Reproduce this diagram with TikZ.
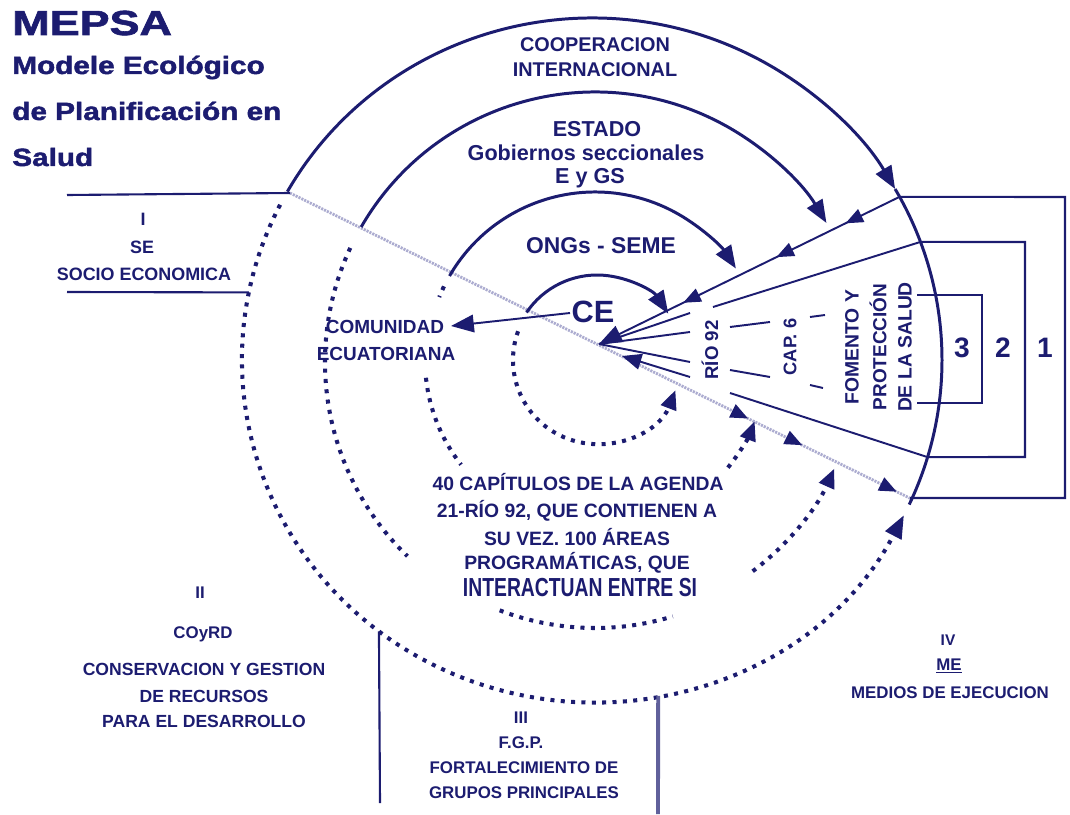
\documentclass[tikz,border=0pt]{standalone}
\usepackage{fontspec}
\setmainfont{Liberation Sans}
\newfontfamily\heavyfont[BoldFeatures={FakeBold=1.6}]{Liberation Sans}
\usetikzlibrary{arrows.meta,decorations.markings,calc}
\definecolor{nv}{RGB}{28,28,112}
\definecolor{gl}{RGB}{172,172,208}
\newcommand{\fsz}[1]{\fontsize{#1}{#1}\selectfont}
\begin{document}
\begin{tikzpicture}[x=0.02cm,y=0.02cm,
  solidarc/.style={draw=nv, line width=1.7pt},
  thinline/.style={draw=nv, line width=1.1pt},
  boxline/.style={draw=nv, line width=1.2pt},
  dotarc/.style={draw=nv, line width=2.3pt, dash pattern=on 2.3pt off 3.6pt},
  grayline/.style={draw=gl, line width=1.6pt, dash pattern=on 1.2pt off 0.6pt},
  arrbig/.style={-{Triangle[length=13pt,width=10pt]}},
  arrmid/.style={-{Triangle[length=11pt,width=9pt]}},
  lbl/.style={text=nv, font=\bfseries, inner sep=0pt, anchor=base},
  lblw/.style={text=nv, font=\heavyfont\bfseries, inner sep=0pt, anchor=base west},
  rlbl/.style={text=nv, font=\bfseries, inner sep=0pt, rotate=90, anchor=center},
  l1marks/.style={postaction={decorate,decoration={markings,
     mark=at position 0.18 with {\arrow{Triangle[length=10pt,width=8pt]}},
     mark=at position 0.41 with {\arrow{Triangle[length=10pt,width=8pt]}},
     mark=at position 0.72 with {\arrow{Triangle[length=10pt,width=8pt]}}}}},
  glmarks/.style={postaction={decorate,decoration={markings,
     mark=at position 0.737 with {\arrow{Triangle[length=10pt,width=8pt,color=nv]}},
     mark=at position 0.824 with {\arrow{Triangle[length=10pt,width=8pt,color=nv]}},
     mark=at position 0.976 with {\arrow{Triangle[length=10pt,width=8pt,color=nv]}}}}}
]
\useasboundingbox (0,-814) rectangle (1070,0);

% centres
\coordinate (cA) at (592,-360);
\coordinate (cB) at (595,-362);
\coordinate (cC) at (595,-360);
\coordinate (cD) at (597,-360);
\coordinate (O) at (599,-344);

% key points
\coordinate (P1) at ($(cA)+(28.5:350 and 342)$);
\coordinate (G1) at (290,-193);
\coordinate (G2) at ($(cA)+(-24:350 and 342)$);

% gray diagonal line
\draw[grayline, glmarks] (G1) -- (G2);

% outer circle (cooperacion)
\draw[solidarc, arrbig] ($(cA)+(150.5:350 and 342)$) arc[start angle=150.5, end angle=30, x radius=350, y radius=342];
\draw[solidarc] ($(cA)+(30:350 and 342)$) arc[start angle=30, end angle=-25, x radius=350, y radius=342];
\draw[dotarc, arrbig] ($(cA)+(153:350 and 342)$) arc[start angle=153, end angle=333, x radius=350, y radius=342];

% circle B (estado)
\draw[solidarc, arrbig] ($(cB)+(150:270)$) arc[start angle=150, end angle=31, radius=270];
\draw[dotarc] ($(cB)+(155:270)$) arc[start angle=155, end angle=226, radius=270];
\draw[dotarc] ($(cB)+(249:266)$) arc[start angle=249, end angle=287, radius=266];
\draw[dotarc, arrmid] ($(cB)+(307:262)$) arc[start angle=307, end angle=336, radius=262];

% circle C (ONGs)
\draw[solidarc, arrbig] ($(cC)+(150:168)$) arc[start angle=150, end angle=33, radius=168];
\draw[dotarc] ($(cC)+(154:168)$) arc[start angle=154, end angle=158, radius=168];
\draw[dotarc] ($(cC)+(186:170)$) arc[start angle=186, end angle=218, radius=170];
\draw[dotarc, arrmid] ($(cC)+(321:171)$) arc[start angle=321, end angle=339, radius=171];

% circle D (CE)
\draw[solidarc, arrbig] ($(cD)+(146:85)$) arc[start angle=146, end angle=33, radius=85];
\draw[dotarc, arrmid] ($(cD)+(160:84)$) arc[start angle=160, end angle=339, radius=84];

% fan of lines
\draw[thinline, l1marks, arrbig] (P1) -- (O);
\coordinate (L2a) at (713,-307);
\coordinate (L2b) at ($(cA)+(20.2:350 and 342)$);
\draw[thinline] (L2a) -- (L2b);
\coordinate (L3a) at (730,-393);
\coordinate (L3b) at ($(cA)+(-16.5:350 and 342)$);
\draw[thinline] (L3a) -- (L3b);
\coordinate (r1) at (690,-313);
\coordinate (r2) at (690,-332);
\coordinate (r3) at (690,-362);
\coordinate (r4) at (690,-377);
\coordinate (r4e) at (622,-356);
\draw[thinline] (r1) -- (O);
\draw[thinline] (r2) -- (O);
\draw[thinline] (r3) -- (O);
\draw[thinline, arrmid] (r4) -- (r4e);
\coordinate (d1a) at (730,-327); \coordinate (d1b) at (770,-322);
\coordinate (d2a) at (810,-317); \coordinate (d2b) at (825,-315);
\coordinate (d3a) at (730,-370); \coordinate (d3b) at (770,-377);
\coordinate (d4a) at (810,-385); \coordinate (d4b) at (823,-388);
\draw[thinline] (d1a) -- (d1b);
\draw[thinline] (d2a) -- (d2b);
\draw[thinline] (d3a) -- (d3b);
\draw[thinline] (d4a) -- (d4b);

% right boxes
\draw[boxline] (P1) -- (1065,-197) -- (1065,-498) -- (910,-498);
\draw[boxline] (L2b) -- (1025,-242) -- (1025,-457) -- (L3b);
\coordinate (B3a) at (917,-295);
\coordinate (B3b) at (917,-403);
\draw[boxline] (B3a) -- (982,-295) -- (982,-403) -- (B3b);

% section lines
\coordinate (S1a) at (67,-195);
\coordinate (S2a) at (67,-292);
\coordinate (S2b) at ($(cA)+(168.6:350 and 342)$);
\draw[boxline] (S1a) -- (G1);
\draw[boxline] (S2a) -- (S2b);
\coordinate (V1a) at ($(cA)+(232.5:350 and 342)$);
\coordinate (V1b) at (380,-803);
\draw[boxline] (V1a) -- (V1b);
\coordinate (V2a) at ($(cA)+(280.9:350 and 342)$);
\coordinate (V2b) at (658,-814);
\draw[draw=nv!70, line width=2.2pt] (V2a) -- (V2b);

% title
\node[lblw] (t0) at (12,-35) {\fsz{19.8}\scalebox{1.29}[1]{MEPSA}};
\node[lblw] (t1) at (12,-74) {\fsz{14.2}\scalebox{1.19}[1]{Modele Ecológico}};
\node[lblw] (t2) at (12,-120) {\fsz{14.2}\scalebox{1.19}[1]{de Planificación en}};
\node[lblw] (t3) at (12,-166) {\fsz{14.2}\scalebox{1.19}[1]{Salud}};

% ring labels
\node[lbl] (co1) at (595,-52) {\fsz{11.3}COOPERACION};
\node[lbl] (co2) at (595,-77) {\fsz{11.3}INTERNACIONAL};
\node[lbl] (es1) at (597,-137) {\fsz{12.3}ESTADO};
\node[lbl] (es2) at (586,-160) {\fsz{12.3}Gobiernos seccionales};
\node[lbl] (es3) at (590,-183) {\fsz{12.3}E y GS};
\node[lbl] (ong) at (601,-253) {\fsz{13}ONGs - SEME};
\node[lbl] (CE) at (593,-322) {\fsz{17.5}CE};
\node[lbl] (com1) at (385,-333) {\fsz{10.8}COMUNIDAD};
\node[lbl] (com2) at (386,-360) {\fsz{10.8}ECUATORIANA};
\coordinate (CEw) at (570,-313);
\coordinate (COMe) at (451,-326);
\draw[thinline, arrbig] (CEw) -- (COMe);

% agenda text
\node[lbl] (ag1) at (578,-490) {\fsz{11}40 CAPÍTULOS DE LA AGENDA};
\node[lbl] (ag2) at (577,-517) {\fsz{11}21-RÍO 92, QUE CONTIENEN A};
\node[lbl] (ag3) at (577,-545) {\fsz{11}SU VEZ. 100 ÁREAS};
\node[lbl] (ag4) at (577,-569) {\fsz{11}PROGRAMÁTICAS, QUE};
\node[lbl] (ag5) at (580,-596) {\fsz{11}\scalebox{1}[1.35]{INTERACTUAN ENTRE SI}};

% left section I
\node[lbl] (s1a) at (143,-225) {\fsz{10.2}I};
\node[lbl] (s1b) at (142,-253) {\fsz{10.2}SE};
\node[lbl] (s1c) at (144,-280) {\fsz{10.2}SOCIO ECONOMICA};

% section II
\node[lbl] (s2a) at (200,-598) {\fsz{9.6}II};
\node[lbl] (s2b) at (203,-638) {\fsz{9.6}COyRD};
\node[lbl] (s2c) at (204,-675) {\fsz{10}CONSERVACION Y GESTION};
\node[lbl] (s2d) at (204,-702) {\fsz{10}DE RECURSOS};
\node[lbl] (s2e) at (204,-727) {\fsz{10}PARA EL DESARROLLO};

% section III
\node[lbl] (s3a) at (521,-723) {\fsz{9.6}III};
\node[lbl] (s3b) at (521,-748) {\fsz{9.6}F.G.P.};
\node[lbl] (s3c) at (524,-773) {\fsz{9.6}FORTALECIMIENTO DE};
\node[lbl] (s3d) at (524,-798) {\fsz{9.6}GRUPOS PRINCIPALES};

% section IV
\node[lbl] (s4a) at (948,-645) {\fsz{8.8}IV};
\node[lbl] (s4b) at (949,-670) {\fsz{9.6}\underline{ME}};
\node[lbl] (s4c) at (950,-698) {\fsz{9.6}MEDIOS DE EJECUCION};

% rotated labels
\node[rlbl] (rio) at (710,-350) {\fsz{10.6}RÍO 92};
\node[rlbl] (cap) at (790,-347) {\fsz{10.4}CAP. 6};
\node[rlbl] (fo1) at (852,-347) {\fsz{11}FOMENTO Y};
\node[rlbl] (fo2) at (878,-347) {\fsz{10.8}PROTECCIÓN};
\node[rlbl] (fo3) at (905,-347) {\fsz{11}DE LA SALUD};

% numbers
\node[text=nv, font=\bfseries, inner sep=0pt] (n3) at (962,-348) {\fsz{16}3};
\node[text=nv, font=\bfseries, inner sep=0pt] (n2) at (1003,-348) {\fsz{16}2};
\node[text=nv, font=\bfseries, inner sep=0pt] (n1) at (1045,-348) {\fsz{16}1};
\end{tikzpicture}
\end{document}
